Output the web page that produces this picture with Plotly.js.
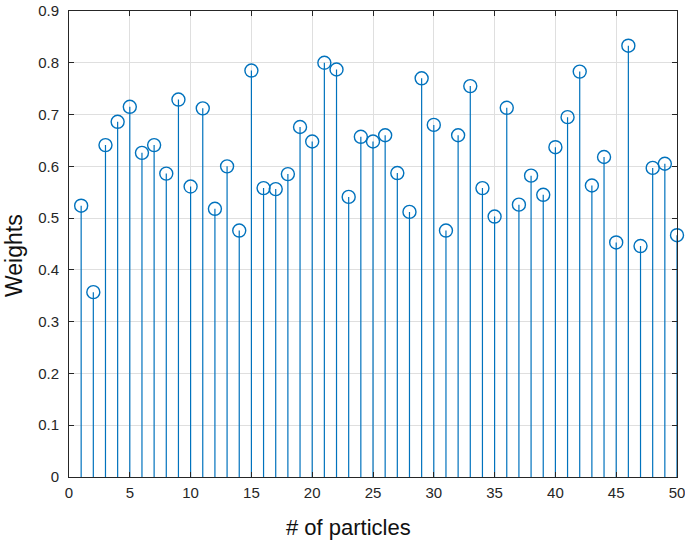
<!DOCTYPE html>
<html>
<head>
<meta charset="utf-8">
<script src="https://cdn.plot.ly/plotly-3.0.1.min.js"></script>
<style>html,body{margin:0;padding:0;background:#fff;}#chart{width:685px;height:544px;}</style>
</head>
<body>
<div id="chart"></div>
<script>
const particles = Array.from({length: 50}, (_, i) => i + 1);
const weights = [
  0.524, 0.357, 0.641, 0.686, 0.715, 0.626, 0.641, 0.586, 0.729, 0.561,
  0.712, 0.518, 0.600, 0.476, 0.785, 0.558, 0.556, 0.585, 0.676, 0.648,
  0.800, 0.787, 0.541, 0.657, 0.648, 0.660, 0.587, 0.512, 0.770, 0.680,
  0.476, 0.660, 0.755, 0.558, 0.503, 0.713, 0.526, 0.582, 0.545, 0.637,
  0.695, 0.783, 0.563, 0.618, 0.453, 0.833, 0.446, 0.597, 0.605, 0.467
];
const xTicks = [0, 5, 10, 15, 20, 25, 30, 35, 40, 45, 50];
const yTicks = [0, 0.1, 0.2, 0.3, 0.4, 0.5, 0.6, 0.7, 0.8, 0.9];
const yTickLabels = ['0', '0.1', '0.2', '0.3', '0.4', '0.5', '0.6', '0.7', '0.8', '0.9'];
const xTitle = '# of particles';
const yTitle = 'Weights';

const color = 'rgb(0,114,189)';
const stemX = [], stemY = [];
particles.forEach((p, i) => { stemX.push(p, p, null); stemY.push(0, weights[i], null); });

const traces = [
  {x: stemX, y: stemY, mode: 'lines', line: {color: color, width: 1.2}, hoverinfo: 'skip', showlegend: false, cliponaxis: false},
  {x: particles, y: weights, mode: 'markers', cliponaxis: false, marker: {symbol: 'circle-open', size: 13, color: color, line: {width: 1.4, color: color}}, showlegend: false}
];

const font = 'Liberation Sans, Arial, sans-serif';
const layout = {
  width: 685, height: 544,
  margin: {l: 69, r: 8, t: 11, b: 67},
  paper_bgcolor: '#fff', plot_bgcolor: '#fff',
  font: {family: font, color: '#262626'},
  xaxis: {
    range: [0, 50], tickvals: xTicks, ticktext: xTicks.map(String),
    showgrid: true, gridcolor: '#dfdfdf', gridwidth: 1,
    zeroline: false, showline: true, linecolor: '#262626', linewidth: 1, mirror: 'ticks',
    ticks: 'inside', ticklen: 5, tickcolor: '#262626', tickwidth: 1,
    ticklabeloverflow: 'allow', ticklabelstandoff: 2,
    tickfont: {size: 15, color: '#262626', family: font}
  },
  yaxis: {
    range: [0, 0.9], tickvals: yTicks, ticktext: yTickLabels,
    showgrid: true, gridcolor: '#dfdfdf', gridwidth: 1,
    zeroline: false, showline: true, linecolor: '#262626', linewidth: 1, mirror: 'ticks',
    ticks: 'inside', ticklen: 5, tickcolor: '#262626', tickwidth: 1,
    ticklabeloverflow: 'allow', ticklabelstandoff: 6,
    tickfont: {size: 15, color: '#262626', family: font}
  },
  annotations: [
    {text: xTitle, xref: 'paper', yref: 'paper', x: 0.5, y: 0, xanchor: 'center', yanchor: 'middle',
     xshift: -25, yshift: -50, showarrow: false, font: {size: 22, color: '#111', family: font}},
    {text: yTitle, xref: 'paper', yref: 'paper', x: 0, y: 0.5, xanchor: 'left', yanchor: 'middle',
     xshift: -70, yshift: -12, textangle: -90, showarrow: false, font: {size: 23, color: '#111', family: font}}
  ]
};
Plotly.newPlot('chart', traces, layout, {staticPlot: true, displayModeBar: false});
</script>
</body>
</html>
